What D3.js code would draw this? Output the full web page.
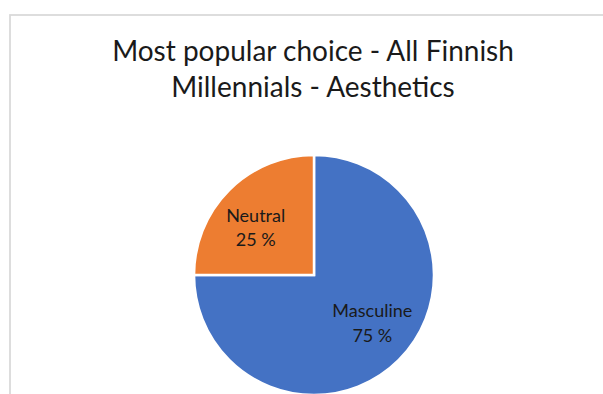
<!DOCTYPE html>
<html>
<head>
<meta charset="utf-8">
<script src="https://cdn.jsdelivr.net/npm/d3@7/dist/d3.min.js"></script>
<style>
  html, body { margin: 0; padding: 0; background: #ffffff; }
  svg { display: block; }
  text { font-family: Lato, "Open Sans", "Noto Sans", sans-serif; }
</style>
</head>
<body>
<svg id="chart" width="603" height="394"></svg>
<script>
// Survey answer shares
const categories = ["Masculine", "Neutral"];
const values = [75, 25];
const colors = ["#4472C4", "#ED7D31"];
const titleLines = ["Most popular choice - All Finnish", "Millennials - Aesthetics"];

const svg = d3.select("#chart");
const W = 603, H = 394;

// Chart area frame (open on the right and bottom edges)
svg.append("rect")
  .attr("x", 10).attr("y", 15)
  .attr("width", W + 20).attr("height", H + 20)
  .attr("fill", "#ffffff")
  .attr("stroke", "#d9d9d9")
  .attr("stroke-width", 1.75);

// Title, sized so the first line spans about 402px
const title = svg.append("g").attr("fill", "#1a1a1a");
const t1 = title.append("text")
  .attr("x", 313).attr("y", 61)
  .attr("text-anchor", "middle")
  .attr("font-size", 26)
  .text(titleLines[0]);
const fs = 26 * 402 / t1.node().getComputedTextLength();
t1.attr("font-size", fs);
title.append("text")
  .attr("x", 313).attr("y", 96.5)
  .attr("text-anchor", "middle")
  .attr("font-size", fs)
  .text(titleLines[1]);

// Pie
const cx = 314, cy = 275, r = 120;
const color = d3.scaleOrdinal().domain(categories).range(colors);
const pie = d3.pie().sort(null).value(d => d.value).startAngle(0).endAngle(2 * Math.PI);
const data = pie(categories.map((c, i) => ({ name: c, value: values[i] })));
const arc = d3.arc().innerRadius(0).outerRadius(r);
const labelArc = d3.arc().innerRadius(r * 0.625).outerRadius(r * 0.625);

const g = svg.append("g").attr("transform", `translate(${cx},${cy})`);
g.selectAll("path.slice")
  .data(data)
  .join("path")
  .attr("class", "slice")
  .attr("d", arc)
  .attr("fill", d => color(d.data.name))
  .attr("stroke", "#ffffff")
  .attr("stroke-width", 2.5)
  .attr("stroke-linejoin", "miter");

// Slice labels: name and percentage, placed a bit wider than tall
const fmt = v => `${v} %`;
const labels = g.selectAll("g.label")
  .data(data)
  .join("g")
  .attr("class", "label")
  .attr("transform", d => {
    const [x, y] = labelArc.centroid(d);
    return `translate(${x * 1.1},${y * 0.9})`;
  });
const nameText = labels.append("text")
  .attr("text-anchor", "middle")
  .attr("y", -5.5)
  .attr("font-size", 17)
  .attr("fill", "#1a1a1a")
  .text(d => d.data.name);
// Label size: "Masculine" spans about 80px
const lfs = 17 * 80 / nameText.filter(d => d.data.name === "Masculine").node().getComputedTextLength();
nameText.attr("font-size", lfs);
labels.append("text")
  .attr("text-anchor", "middle")
  .attr("y", 19)
  .attr("font-size", lfs)
  .attr("fill", "#1a1a1a")
  .text(d => fmt(d.data.value));
</script>
</body>
</html>
